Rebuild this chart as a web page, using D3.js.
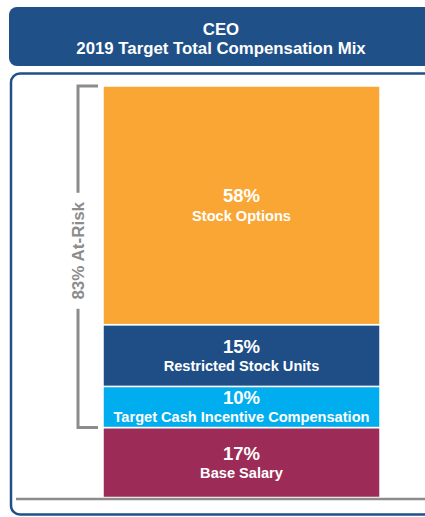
<!DOCTYPE html>
<html>
<head>
<meta charset="utf-8">
<script src="https://cdn.jsdelivr.net/npm/d3@7"></script>
<style>
html,body{margin:0;padding:0;background:#fff;overflow:hidden;}
svg{display:block;font-family:"Liberation Sans",Arial,sans-serif;}
</style>
</head>
<body>
<svg id="chart" width="425" height="517"></svg>
<script>
// Data (bottom to top)
const categories = ["Base Salary", "Target Cash Incentive Compensation", "Restricted Stock Units", "Stock Options"];
const values = [17, 10, 15, 58];
const colors = ["#9C2C57", "#00AEEF", "#1F4E87", "#FAA634"];
const titleLines = ["CEO", "2019 Target Total Compensation Mix"];
const atRiskCategories = ["Target Cash Incentive Compensation", "Restricted Stock Units", "Stock Options"];
const atRiskLabel = "At-Risk";

const svg = d3.select("#chart");
const navy = "#1F5088";
const gray = "#8C8C8C";

// Header
svg.append("rect").attr("x", 9).attr("y", 7).attr("width", 426).attr("height", 59)
  .attr("rx", 8).attr("fill", navy);
svg.append("text").attr("x", 221).attr("y", 35).attr("text-anchor", "middle")
  .attr("fill", "#fff").attr("font-weight", "bold").attr("font-size", 16.8).text(titleLines[0]);
svg.append("text").attr("x", 221).attr("y", 53.5).attr("text-anchor", "middle")
  .attr("fill", "#fff").attr("font-weight", "bold").attr("font-size", 16.8).text(titleLines[1]);

// Panel
svg.append("rect").attr("x", 11).attr("y", 73.5).attr("width", 424).attr("height", 441)
  .attr("rx", 9).attr("fill", "#fff").attr("stroke", navy).attr("stroke-width", 2.5);

// Scales
const total = d3.sum(values);
const y = d3.scaleLinear().domain([0, total]).range([497.5, 86]);
const x = d3.scaleBand().domain(["CEO"]).range([103, 380]).padding(0);

// Stack
const stackData = [{}];
categories.forEach((c, i) => stackData[0][c] = values[i]);
const series = d3.stack().keys(categories)(stackData);

const g = svg.append("g");
series.forEach((s, i) => {
  const d = s[0];
  g.append("rect")
    .attr("x", x("CEO"))
    .attr("width", x.bandwidth())
    .attr("y", y(d[1]))
    .attr("height", y(d[0]) - y(d[1]))
    .attr("fill", colors[i])
    .attr("stroke", "#fff").attr("stroke-width", 1.5);
  const cy = (y(d[0]) + y(d[1])) / 2;
  const cx = x("CEO") + x.bandwidth() / 2;
  g.append("text").attr("x", cx).attr("y", cy - 3).attr("text-anchor", "middle")
    .attr("fill", "#fff").attr("font-weight", "bold").attr("font-size", 18.5)
    .text(values[i] + "%");
  g.append("text").attr("x", cx).attr("y", cy + 15.5).attr("text-anchor", "middle")
    .attr("fill", "#fff").attr("font-weight", "bold").attr("font-size", 14.6)
    .text(s.key);
});

// Baseline
svg.append("line").attr("x1", 16).attr("x2", 425).attr("y1", y(0) + 1.5).attr("y2", y(0) + 1.5)
  .attr("stroke", gray).attr("stroke-width", 2.5);

// Bracket for at-risk
const atRiskTotal = d3.sum(atRiskCategories.map(c => values[categories.indexOf(c)]));
const yTop = y(total), yBot = y(total - atRiskTotal);
const bx = 78, bx2 = 98;
svg.append("path")
  .attr("d", `M${bx2},${yTop}H${bx}V${yBot}H${bx2}`)
  .attr("fill", "none").attr("stroke", gray).attr("stroke-width", 3);
const ty = (yTop + yBot) / 2 - 6;
svg.append("rect").attr("x", bx - 10).attr("y", ty - 58).attr("width", 20).attr("height", 116).attr("fill", "#fff");
svg.append("text")
  .attr("transform", `translate(${bx + 6},${ty}) rotate(-90)`)
  .attr("text-anchor", "middle").attr("fill", gray).attr("font-weight", "bold").attr("font-size", 17)
  .text(atRiskTotal + "% " + atRiskLabel);
</script>
</body>
</html>
